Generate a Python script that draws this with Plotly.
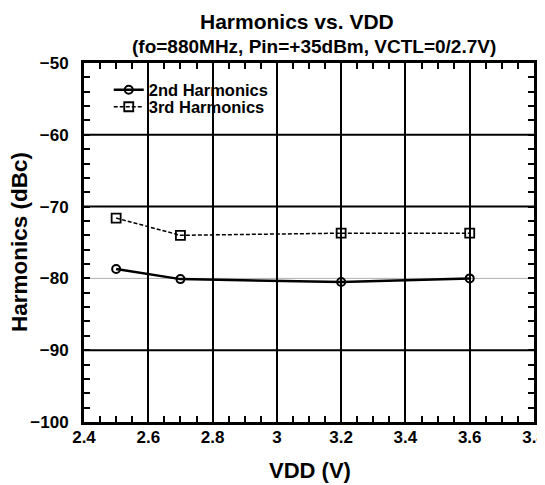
import plotly.graph_objects as go

# Data
vdd_2nd = [2.5, 2.7, 3.2, 3.6]
harm_2nd = [-78.7, -80.1, -80.5, -80.0]
vdd_3rd = [2.5, 2.7, 3.2, 3.6]
harm_3rd = [-71.6, -74.0, -73.7, -73.7]

y_grid_dark = [-60, -70, -90]
y_grid_light = [-80]
y_ticks = [-100, -90, -80, -70, -60, -50]
x_ticks = [2.4, 2.6, 2.8, 3.0, 3.2, 3.4, 3.6, 3.8]
x_ticklabels = ["2.4", "2.6", "2.8", "3", "3.2", "3.4", "3.6", "3.8"]

FONT = "Liberation Sans, Arial, sans-serif"

# The page has an 8px body margin; size the figure so it fits the 545x485 window.
OFF = 8
W, H = 545 - OFF, 485 - OFF
# plot area in window pixels
PL, PR, PT, PB = 84, 534, 63, 422

def px_(x):
    return (x - PL) / (PR - PL)

def py(y):
    return (PB - y) / (PB - PT)

fig = go.Figure()
fig.add_trace(go.Scatter(
    x=vdd_2nd, y=harm_2nd, name="2nd Harmonics", mode="lines+markers",
    line=dict(color="black", width=2.5),
    marker=dict(symbol="circle-open", size=8, color="black", line=dict(width=2)),
    legend="legend",
))
fig.add_trace(go.Scatter(
    x=vdd_3rd, y=harm_3rd, name="3rd Harmonics", mode="lines+markers",
    line=dict(color="black", width=1.5, dash="4px,2px"),
    marker=dict(symbol="square-open", size=9, color="black", line=dict(width=1.8)),
    legend="legend2",
))

shapes = []
for v in y_grid_dark:
    shapes.append(dict(type="line", xref="paper", x0=0, x1=1, yref="y", y0=v, y1=v,
                       line=dict(color="black", width=2), layer="below"))
for v in y_grid_light:
    shapes.append(dict(type="line", xref="paper", x0=0, x1=1, yref="y", y0=v, y1=v,
                       line=dict(color="#b0b0b0", width=1), layer="below"))

legend_common = dict(xanchor="left", yanchor="middle", bgcolor="rgba(0,0,0,0)",
                     font=dict(size=16.5, family=FONT, weight="bold"), itemwidth=30)

annotations = [
    dict(text="<b>Harmonics vs. VDD</b>",
         xref="paper", yref="paper", x=px_(297), y=py(22),
         xanchor="center", yanchor="middle", showarrow=False,
         font=dict(size=21, family=FONT)),
    dict(text="<b>(fo=880MHz, Pin=+35dBm, VCTL=0/2.7V)</b>",
         xref="paper", yref="paper", x=px_(314), y=py(46),
         xanchor="center", yanchor="middle", showarrow=False,
         font=dict(size=19, family=FONT)),
    dict(text="<b>Harmonics (dBc)</b>", textangle=-90,
         xref="paper", yref="paper", x=px_(19), y=py(242),
         xanchor="center", yanchor="middle", showarrow=False,
         font=dict(size=22.5, family=FONT)),
    dict(text="<b>VDD (V)</b>",
         xref="paper", yref="paper", x=px_(310), y=py(470),
         xanchor="center", yanchor="middle", showarrow=False,
         font=dict(size=22, family=FONT)),
]

fig.update_layout(
    width=W, height=H,
    margin=dict(l=PL - OFF, r=W - (PR - OFF), t=PT - OFF, b=H - (PB - OFF)),
    paper_bgcolor="white", plot_bgcolor="white",
    font=dict(family=FONT, color="black"),
    annotations=annotations,
    shapes=shapes,
    showlegend=True,
    legend=dict(x=0.055, y=py(90), **legend_common),
    legend2=dict(x=0.055, y=py(107), **legend_common),
    xaxis=dict(
        range=[2.4, 3.8], tickvals=x_ticks, ticktext=x_ticklabels,
        showgrid=True, gridcolor="black", gridwidth=1.8,
        showline=True, linecolor="black", linewidth=3, mirror="ticks",
        ticks="inside", ticklen=6, tickcolor="black", tickwidth=2,
        minor=dict(dtick=0.05, ticks="inside", ticklen=6, tickcolor="black", tickwidth=1.5, showgrid=False),
        tickfont=dict(size=17, family=FONT, weight="bold"),
        ticklabelstandoff=-2, ticklabeloverflow="allow",
        zeroline=False, automargin=False,
    ),
    yaxis=dict(
        range=[-100, -50], tickvals=y_ticks,
        showgrid=False,
        showline=True, linecolor="black", linewidth=3, mirror="ticks",
        ticks="inside", ticklen=6, tickcolor="black", tickwidth=2,
        minor=dict(dtick=2, ticks="inside", ticklen=6, tickcolor="black", tickwidth=1.5, showgrid=False),
        tickfont=dict(size=17, family=FONT, weight="bold"),
        ticklabelstandoff=9,
        zeroline=False, automargin=False,
    ),
)

fig.write_html("out.html")
